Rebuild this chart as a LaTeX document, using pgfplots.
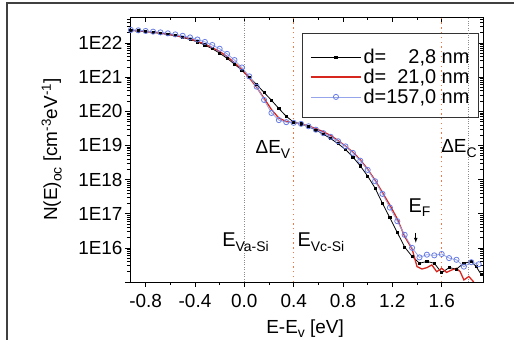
\documentclass[border=0pt]{standalone}
\usepackage{fontspec}
\setmainfont{Liberation Sans}
\usepackage{pgfplots}
\pgfplotsset{compat=1.18}

\definecolor{cred}{RGB}{215,38,30}
\definecolor{cblue}{RGB}{105,125,230}
\definecolor{cbluel}{RGB}{150,165,235}
\definecolor{corange}{RGB}{240,120,70}

\newcommand{\sub}[1]{\raisebox{-0.45ex}{\fontsize{14}{15}\selectfont #1}}

\begin{document}
\begin{tikzpicture}[font=\fontsize{19}{22}\selectfont]
\useasboundingbox (0,0) rectangle (514bp,340bp);
\draw[line width=1.2bp, black!75] (7bp,0) -- (7bp,337bp) -- (514bp,337bp);

% mirrored ticks on top and right, pointing inwards
\begin{axis}[
  at={(130bp,58bp)}, anchor=south west,
  scale only axis, width=353bp, height=265bp,
  xmin=-0.927, xmax=1.935,
  ymode=log, ymin=1e15, ymax=5.75e22,
  xtick={-0.8,-0.4,0,0.4,0.8,1.2,1.6},
  minor x tick num=1,
  ytick={1e15,1e16,1e17,1e18,1e19,1e20,1e21,1e22,1e23},
  major tick length=5bp, minor tick length=3bp,
  every tick/.style={black, line width=0.6pt},
  axis line style={line width=0.8pt},
  tick align=inside, xtick pos=right, ytick pos=right,
  xticklabels={}, yticklabels={}]
\end{axis}

\begin{axis}[
  at={(130bp,58bp)}, anchor=south west,
  scale only axis, width=353bp, height=265bp,
  xmin=-0.927, xmax=1.935,
  ymode=log, ymin=1e15, ymax=5.75e22,
  xtick={-0.8,-0.4,0,0.4,0.8,1.2,1.6},
  minor x tick num=1,
  ytick={1e15,1e16,1e17,1e18,1e19,1e20,1e21,1e22,1e23},
  major tick length=5bp, minor tick length=3bp,
  every tick/.style={black, line width=0.6pt},
  axis line style={line width=0.8pt},
  tick align=outside, xtick pos=left, ytick pos=left,
  xticklabels={-0.8,-0.4,0.0,0.4,0.8,1.2,1.6},
  yticklabels={,1E16,1E17,1E18,1E19,1E20,1E21,1E22,},
  xticklabel style={yshift=-4bp},
  yticklabel style={xshift=1bp},
  xlabel={E-E\sub{v} [eV]},
  ylabel={N(E)\sub{oc} [cm\textsuperscript{-3}eV\textsuperscript{-1}]},
  xlabel style={at={(axis description cs:0.496,-0.194)}, anchor=base},
  ylabel style={at={(axis description cs:-0.222,0.5)}, anchor=center},
  legend cell align=left,
  legend style={at={(0.739,0.7736)}, anchor=center, draw=none, fill=none,
    row sep=0bp, font=\fontsize{20}{22}\selectfont},
  legend image code/.code={
    \draw[mark repeat=2,mark phase=2,#1] plot coordinates {(0bp,0bp) (25bp,0bp) (50bp,0bp)};},
]

% legend frame
\draw[black!80, line width=0.6pt, fill=white] (rel axis cs:0.487,0.6226) rectangle (rel axis cs:0.986,0.9396);

% reference energies
\draw[black!45, line width=0.8pt, dash pattern=on 0.8pt off 1.6pt] (axis cs:0,1e15) -- (axis cs:0,5.75e22);
\draw[black!45, line width=0.8pt, dash pattern=on 0.8pt off 1.6pt] (axis cs:1.82,1e15) -- (axis cs:1.82,5.75e22);
\draw[corange, line width=1.3pt, dash pattern=on 1.3pt off 3.5pt] (axis cs:0.4,1e15) -- (axis cs:0.4,5.75e22);
\draw[corange, line width=1.3pt, dash pattern=on 1.3pt off 3.5pt] (axis cs:1.6,1e15) -- (axis cs:1.6,5.75e22);

% d = 2.8 nm
\addplot[black, line width=0.8pt, mark=square*, mark size=1.1pt] coordinates {
(-0.92,2.29e22) (-0.86,2.24e22) (-0.80,2.14e22) (-0.74,2.04e22) (-0.68,1.91e22)
(-0.62,1.78e22) (-0.56,1.62e22) (-0.50,1.45e22) (-0.44,1.26e22) (-0.38,1.07e22)
(-0.32,8.71e21) (-0.26,6.76e21) (-0.20,5.01e21) (-0.14,3.55e21) (-0.08,2.40e21)
(-0.02,1.58e21) (0.04,1.00e21) (0.10,6.03e20) (0.16,3.55e20) (0.22,2.09e20)
(0.28,1.20e20) (0.34,7.08e19) (0.40,4.79e19) (0.46,4.27e19) (0.52,3.55e19)
(0.58,2.82e19) (0.64,2.14e19) (0.70,1.58e19) (0.76,1.12e19) (0.82,7.59e18)
(0.88,4.57e18) (0.94,2.51e18) (1.00,1.26e18) (1.06,5.62e17) (1.12,2.00e17)
(1.18,7.59e16) (1.24,2.82e16) (1.30,1.05e16) (1.36,5.62e15) (1.42,3.55e15)
(1.48,3.98e15) (1.54,3.55e15) (1.60,1.86e15) (1.66,2.63e15) (1.72,2.40e15)
(1.78,3.55e15) (1.84,3.98e15) (1.88,2.82e15) (1.92,1.66e15)
};
\addlegendentry{d=\phantom{15}2,8 nm}

% d = 21.0 nm
\addplot[cred, line width=1.3pt, no marks] coordinates {
(-0.92,2.34e22) (-0.80,2.19e22) (-0.68,1.95e22) (-0.56,1.66e22) (-0.44,1.32e22)
(-0.32,9.33e21) (-0.20,5.62e21) (-0.14,3.98e21) (-0.08,2.63e21) (-0.02,1.66e21)
(0.04,9.55e20) (0.10,5.01e20) (0.16,2.40e20) (0.22,1.12e20) (0.28,6.31e19)
(0.34,5.01e19) (0.40,4.57e19) (0.46,4.27e19) (0.52,3.72e19) (0.58,3.09e19)
(0.64,2.51e19) (0.70,1.95e19) (0.76,1.38e19) (0.82,9.55e18) (0.88,6.31e18)
(0.94,3.80e18) (1.00,2.00e18) (1.06,9.55e17) (1.12,4.17e17) (1.18,1.78e17)
(1.24,7.08e16) (1.30,2.14e16) (1.36,9.33e15) (1.40,2.82e15) (1.44,2.40e15)
(1.48,2.63e15) (1.52,3.16e15) (1.56,2.00e15) (1.60,2.51e15) (1.64,1.91e15)
(1.68,2.24e15) (1.72,2.51e15) (1.75,2.00e15) (1.78,1.15e15) (1.82,1.45e15)
(1.86,1.00e15)
};
\addlegendentry{d=\phantom{1}21,0 nm}

% d = 157.0 nm
\addplot[cbluel, line width=0.8pt, mark=o, mark size=2.6pt,
  mark options={draw=cblue, line width=0.8pt, fill=none}] coordinates {
(-0.92,2.40e22) (-0.86,2.34e22) (-0.80,2.24e22) (-0.74,2.14e22) (-0.68,2.04e22)
(-0.62,1.91e22) (-0.56,1.78e22) (-0.50,1.62e22) (-0.44,1.45e22) (-0.38,1.26e22)
(-0.32,1.07e22) (-0.26,8.71e21) (-0.20,6.76e21) (-0.14,4.79e21) (-0.08,3.16e21)
(-0.02,1.91e21) (0.04,1.05e21) (0.10,5.25e20) (0.16,2.14e20) (0.22,8.91e19)
(0.28,5.50e19) (0.34,4.79e19) (0.40,4.57e19) (0.46,4.27e19) (0.52,3.63e19)
(0.58,2.88e19) (0.64,2.29e19) (0.70,1.78e19) (0.76,1.32e19) (0.82,9.33e18)
(0.88,6.03e18) (0.94,3.55e18) (1.00,1.91e18) (1.06,8.91e17) (1.12,3.80e17)
(1.18,1.51e17) (1.24,6.03e16) (1.30,2.40e16) (1.36,1.00e16) (1.42,5.25e15)
(1.48,6.31e15) (1.54,6.03e15) (1.60,6.61e15) (1.66,5.01e15) (1.72,4.47e15)
(1.78,2.82e15) (1.84,3.80e15) (1.90,3.31e15)
};
\addlegendentry{d=157,0 nm}

% labels of the band edges
\node[anchor=base west, inner sep=0pt, font=\fontsize{20}{22}\selectfont] at (axis cs:-0.18,1.07e16) {E\sub{Va-Si}};
\node[anchor=base west, inner sep=0pt, font=\fontsize{20}{22}\selectfont] at (axis cs:0.43,1.07e16) {E\sub{Vc-Si}};
\node[anchor=base west, inner sep=0pt] at (axis cs:0.09,5.62e18) {ΔE\sub{V}};
\node[anchor=base west, inner sep=0pt] at (axis cs:1.595,6.03e18) {ΔE\sub{C}};
\node[anchor=base west, inner sep=0pt, font=\fontsize{20}{22}\selectfont] at (axis cs:1.33,1.12e17) {E\sub{F}};
\draw[-latex, line width=0.7pt] (axis cs:1.39,2.75e16) -- (axis cs:1.39,1.41e16);
\end{axis}
\end{tikzpicture}
\end{document}
